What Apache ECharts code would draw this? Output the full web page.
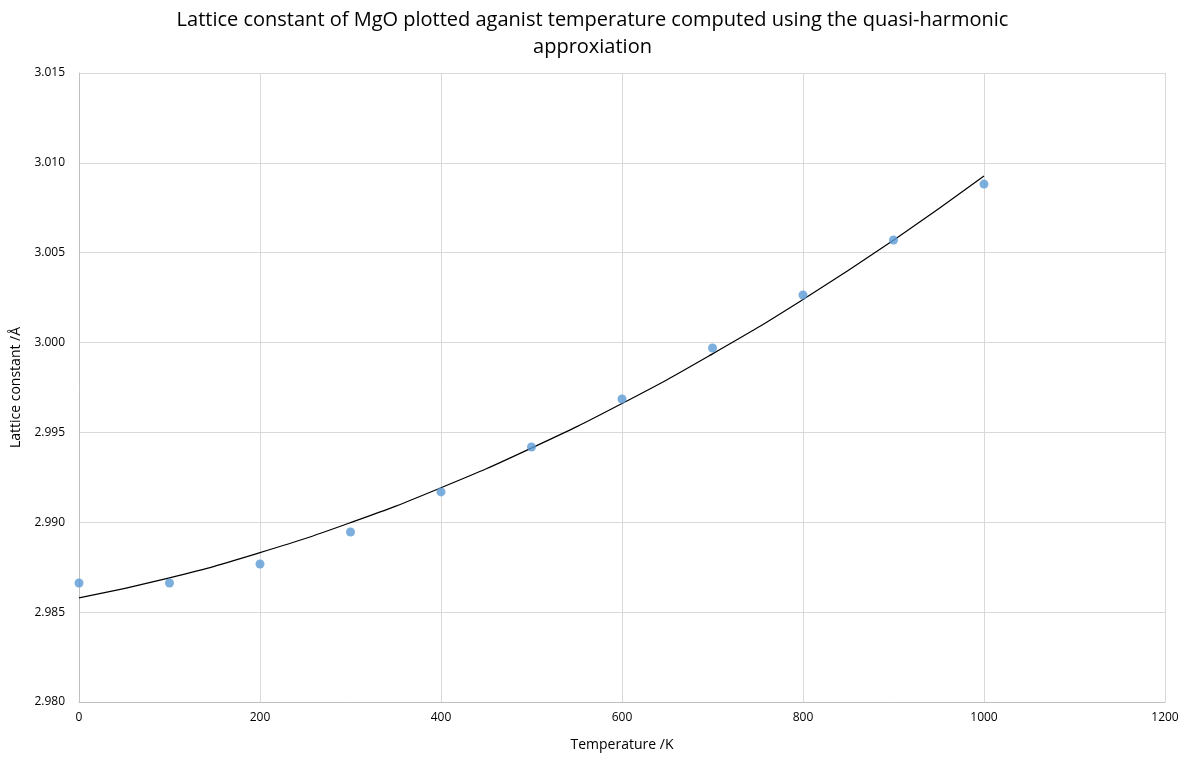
<!DOCTYPE html>
<html>
<head>
<meta charset="utf-8">
<script src="https://cdn.jsdelivr.net/npm/echarts@6/dist/echarts.min.js"></script>
<style>
  html, body { margin: 0; padding: 0; background: #fff; }
  #main { width: 1185px; height: 768px; }
</style>
</head>
<body>
<div id="main"></div>
<script>
// temperatures (K) and computed lattice constants (Å)
var temps = [0, 100, 200, 300, 400, 500, 600, 700, 800, 900, 1000];
var latticeA = [2.98662, 2.98662, 2.98768, 2.98946, 2.99169, 2.99419, 2.99686, 2.99970, 3.00265, 3.00571, 3.00882];
// polynomial trendline at the same temperatures
var trendA = [2.98579, 2.98691, 2.98831, 2.98998, 2.99192, 2.99413, 2.99661, 2.99937, 3.00240, 3.00570, 3.00927];

var font = '"Open Sans", "Liberation Sans", sans-serif';

var myChart = echarts.init(document.getElementById('main'));

var option = {
    backgroundColor: '#fff',
    animation: false,
    title: {
        text: 'Lattice constant of MgO plotted aganist temperature computed using the quasi-harmonic\napproxiation',
        left: 'center',
        top: 2,
        textStyle: {
            fontFamily: font,
            fontSize: 20,
            fontWeight: 'normal',
            color: '#000',
            lineHeight: 27
        }
    },
    grid: {
        left: 79,
        right: 20,
        top: 73,
        bottom: 66
    },
    xAxis: {
        type: 'value',
        min: 0,
        max: 1200,
        interval: 200,
        name: 'Temperature /K',
        nameLocation: 'middle',
        nameGap: 36,
        nameTextStyle: { fontFamily: font, fontSize: 14, color: '#000' },
        axisLine: { lineStyle: { color: '#bfbfbf' } },
        axisTick: { show: false },
        axisLabel: {
            fontFamily: font,
            fontSize: 12,
            color: '#000',
            margin: 10,
            formatter: function (v) { return String(v); }
        },
        splitLine: { show: true, lineStyle: { color: '#d9d9d9' } }
    },
    yAxis: {
        type: 'value',
        min: 2.980,
        max: 3.015,
        interval: 0.005,
        name: 'Lattice constant /Å',
        nameLocation: 'middle',
        nameGap: 56,
        nameTextStyle: { fontFamily: font, fontSize: 14, color: '#000' },
        axisLine: { show: true, lineStyle: { color: '#bfbfbf' } },
        axisTick: { show: false },
        axisLabel: {
            fontFamily: font,
            fontSize: 12,
            color: '#000',
            margin: 14,
            formatter: function (v) { return v.toFixed(3); }
        },
        splitLine: { show: true, lineStyle: { color: '#d9d9d9' } }
    },
    series: [{
        name: 'trend',
        type: 'line',
        data: temps.map(function (t, i) { return [t, trendA[i]]; }),
        smooth: true,
        showSymbol: false,
        lineStyle: { color: '#000', width: 1.2 },
        z: 2
    }, {
        name: 'Lattice constant',
        type: 'scatter',
        data: temps.map(function (t, i) { return [t, latticeA[i]]; }),
        symbolSize: 9,
        itemStyle: { color: '#5b9bd5' },
        z: 3
    }]
};

myChart.setOption(option);
</script>
</body>
</html>
